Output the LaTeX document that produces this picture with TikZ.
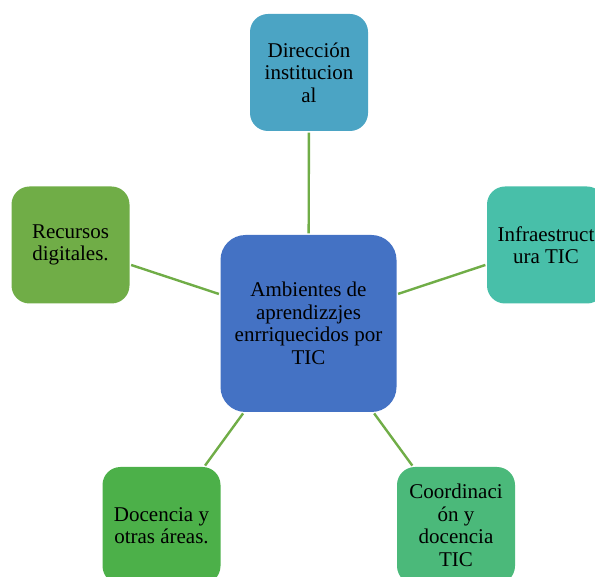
\documentclass[tikz,border=0pt]{standalone}
\usepackage{fontspec}
\setmainfont{Liberation Serif}
\definecolor{ctop}{HTML}{4BA4C4}
\definecolor{cright}{HTML}{48BFA9}
\definecolor{ccenter}{HTML}{4472C4}
\definecolor{cbr}{HTML}{4BB97A}
\definecolor{cbl}{HTML}{4CB049}
\definecolor{cleft}{HTML}{70AD47}
\definecolor{cline}{HTML}{70AD47}
\tikzset{
  sat/.style={rectangle, rounded corners=18pt, minimum width=118pt, minimum height=117pt,
    inner sep=0pt, align=center, text=black,
    font=\fontsize{21}{22.5}\selectfont},
  hub/.style={sat, rounded corners=25pt, minimum width=176pt, minimum height=177pt},
  link/.style={draw=cline, line width=2.4pt, shorten <=1.5pt, shorten >=1.5pt}
}
\begin{document}
\begin{tikzpicture}[x=1pt,y=-1pt]
\useasboundingbox (0,0) rectangle (595,577);
\begin{scope}
\clip (0,0) rectangle (595,577);
\node[hub, fill=ccenter] (c) at (308.5,323.5) {Ambientes de\\aprendizzjes\\enrriquecidos por\\TIC};
\node[sat, fill=ctop] (t) at (309,72.5) {Dirección\\institucion\\al};
\node[sat, fill=cright] (r) at (546,245) {Infraestruct\\ura TIC};
\node[sat, fill=cbr] (br) at (456,525.5) {Coordinaci\\ón y\\docencia\\TIC};
\node[sat, fill=cbl] (bl) at (161.5,525.5) {Docencia y\\otras áreas.};
\node[sat, fill=cleft] (l) at (70.5,245) {Recursos\\digitales.};
\draw[link] (c) -- (t);
\draw[link] (c) -- (r);
\draw[link] (c) -- (br);
\draw[link] (c) -- (bl);
\draw[link] (c) -- (l);
\end{scope}
\end{tikzpicture}
\end{document}
